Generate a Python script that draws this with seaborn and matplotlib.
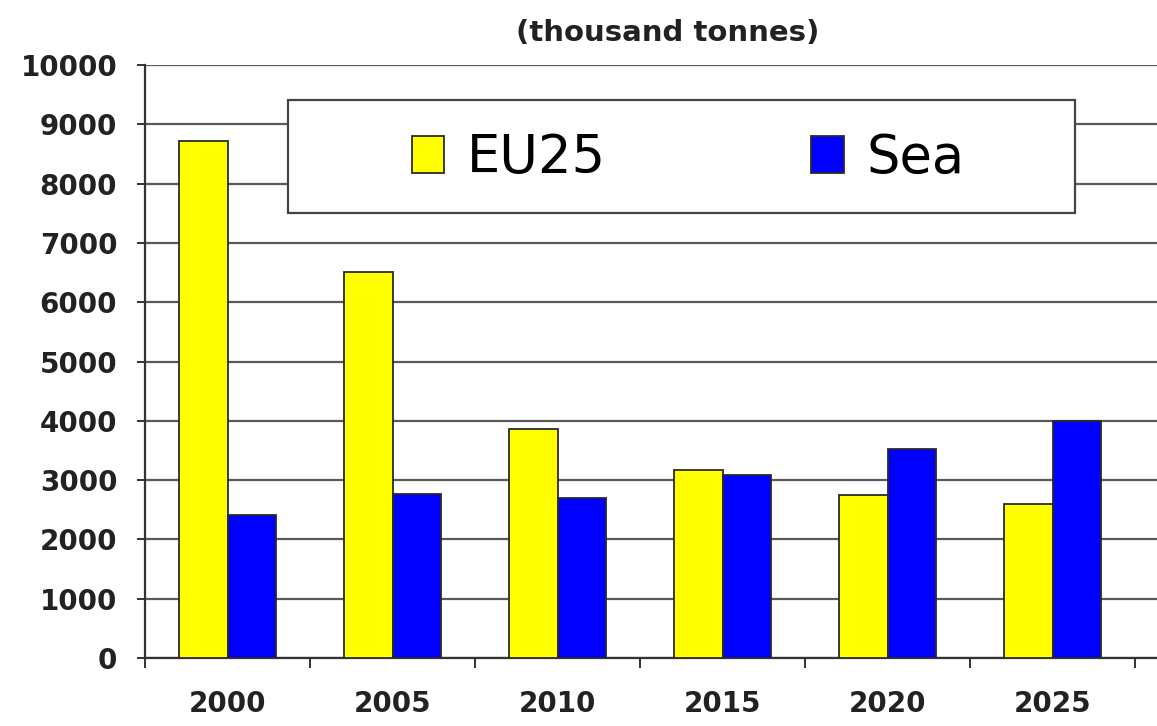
import matplotlib
matplotlib.use("Agg")
import matplotlib.pyplot as plt
from matplotlib.patches import Rectangle
from matplotlib.ticker import MultipleLocator, FixedLocator
import seaborn as sns
import pandas as pd

# data
years = ["2000", "2005", "2010", "2015", "2020", "2025"]
eu25 = [8720, 6510, 3860, 3170, 2750, 2600]
sea = [2410, 2770, 2700, 3090, 3520, 4000]

df = pd.DataFrame({
    "year": years * 2,
    "value": eu25 + sea,
    "region": ["EU25"] * len(years) + ["Sea"] * len(years),
})

sns.set_theme(style="white")
plt.rcParams["font.family"] = ["DejaVu Sans"]

fig = plt.figure(figsize=(11.57, 7.26), dpi=100)
ax = fig.add_axes([145 / 1157, 1 - 658 / 726, 1 - 145 / 1157, (658 - 65) / 726])

sns.barplot(data=df, x="year", y="value", hue="region",
            palette={"EU25": "#ffff00", "Sea": "#0000ff"},
            width=0.59, gap=0, edgecolor="#2a2a2a", linewidth=1.3,
            saturation=1, ax=ax, zorder=3)

ax.set_ylim(0, 10000)
ax.set_xlim(-0.5, 5.633)
ax.yaxis.set_major_locator(MultipleLocator(1000))
ax.grid(axis="y", color="#5a5a5a", linewidth=1.6, zorder=0)
ax.set_axisbelow(True)

for side in ["top", "right"]:
    ax.spines[side].set_visible(False)
for side in ["left", "bottom"]:
    ax.spines[side].set_color("#333333")
    ax.spines[side].set_linewidth(1.6)

ax.set_xlabel("")
ax.set_ylabel("")
ax.tick_params(axis="y", length=6, width=1.4, color="#333333", pad=14,
               labelsize=20, left=True)
ax.tick_params(axis="x", which="major", length=0, pad=23, labelsize=20, bottom=True)
ax.xaxis.set_minor_locator(FixedLocator([i + 0.5 for i in range(-1, 6)]))
ax.tick_params(axis="x", which="minor", length=7, width=1.4, color="#333333",
               bottom=True)
for lbl in ax.get_xticklabels() + ax.get_yticklabels():
    lbl.set_fontweight("bold")
    lbl.set_color("#222222")

# legend box drawn over the gridlines
handles, labels = ax.get_legend_handles_labels()
ax.get_legend().remove()
fig.patches.append(Rectangle((288 / 1157, 1 - 213 / 726), (1075 - 288) / 1157,
                             (213 - 100) / 726, transform=fig.transFigure,
                             facecolor="white", edgecolor="#444444",
                             linewidth=1.6, zorder=5))
leg = fig.legend(handles, labels, loc="center",
                 bbox_to_anchor=(688 / 1157, 1 - 158 / 726),
                 ncol=2, frameon=False, prop={"family": "DejaVu Sans", "size": 38},
                 handlelength=0.62, handleheight=0.72, handletextpad=0.42,
                 columnspacing=3.9, labelcolor="black")
leg.set_zorder(6)

fig.text(668 / 1157, 1 - 33 / 726, "(thousand tonnes)", ha="center", va="center",
         fontsize=21, fontweight="bold", color="#222222")

fig.savefig("out.png", dpi=100)
